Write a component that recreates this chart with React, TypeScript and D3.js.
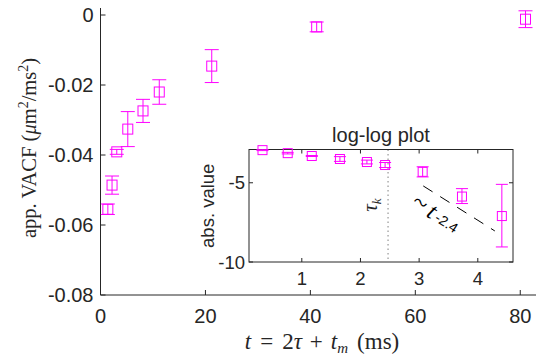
import * as d3 from 'd3';

// main panel: t (ms) vs apparent VACF
const mainT = [1.4, 2.2, 3.1, 5.2, 8.1, 11.2, 21.2, 41.2, 81.0];
const mainV = [-0.0555, -0.0486, -0.0391, -0.0326, -0.0274, -0.022, -0.0146, -0.0034, -0.0012];
const mainErr = [0.0015, 0.0026, 0.0007, 0.005, 0.0033, 0.0035, 0.0047, 0.0014, 0.0024];
const mainXTicks = [0, 20, 40, 60, 80];
const mainYTicks = [-0.08, -0.06, -0.04, -0.02, 0];

// inset: log-log
const logT = [0.33, 0.76, 1.17, 1.65, 2.11, 2.42, 3.06, 3.73, 4.41];
const logV = [-2.94, -3.13, -3.31, -3.5, -3.69, -3.88, -4.31, -5.87, -7.1];
const logErrUp = [0.03, 0.05, 0.03, 0.15, 0.12, 0.16, 0.32, 0.5, 2.0];
const logErrDown = [0.03, 0.05, 0.03, 0.15, 0.12, 0.16, 0.32, 0.44, 1.95];
const insetXTicks = [1, 2, 3, 4];
const insetYTicks = [-10, -5];
const tauK = 2.47;
const slopeLine = [
  [3.07, -5.2],
  [4.29, -8.04],
];

const AX = '#262626';
const MAG = '#ff00ff';
const SANS = '"Liberation Sans", Arial, Helvetica, sans-serif';
const SERIF = '"Liberation Serif", "Times New Roman", serif';

export default function App() {
  const width = 537;
  const height = 356;

  const x = d3.scaleLinear().domain([0, 83]).range([100.5, 536]);
  const y = d3.scaleLinear().domain([-0.08, 0.002]).range([295, 8]);

  const ix = d3.scaleLinear().domain([0.1, 4.6]).range([249, 513]);
  const iy = d3.scaleLinear().domain([-10, -2.9]).range([262, 149.5]);

  const fmtY = (v: number) => (v === 0 ? '0' : d3.format('.2f')(v).replace('−', '-'));

  const [x0, x1] = x.range();
  const [yb, yt] = y.range();
  const [ix0, ix1] = ix.range();
  const [iyb, iyt] = iy.range();

  return (
    <div style={{ position: 'absolute', left: 0, top: 0 }}>
      <svg width={width} height={height} style={{ display: 'block', background: '#fff' }}>
        {/* main axes */}
        <g stroke={AX} strokeWidth={1} fill="none">
          <line x1={x0} x2={x0} y1={yb} y2={yt} />
          <line x1={x0} x2={x1} y1={yb} y2={yb} />
          {mainYTicks.map((t) => (
            <line key={t} x1={x0} x2={x0 + 5} y1={y(t)} y2={y(t)} />
          ))}
          {mainXTicks.map((t) => (
            <line key={t} x1={x(t)} x2={x(t)} y1={yb} y2={yb - 5} />
          ))}
        </g>
        <g fill={AX} fontFamily={SANS} fontSize={20}>
          {mainYTicks.map((t) => (
            <text key={t} x={x0 - 7} y={y(t)} dy="0.36em" textAnchor="end">
              {fmtY(t)}
            </text>
          ))}
          {mainXTicks.map((t) => (
            <text key={t} x={x(t)} y={323} textAnchor="middle">
              {t}
            </text>
          ))}
        </g>
        <text x={322} y={349} textAnchor="middle" fontFamily={SERIF} fontSize={23} fill={AX}>
          <tspan fontStyle="italic">t</tspan>
          <tspan dx={9}>=</tspan>
          <tspan dx={9}>2</tspan>
          <tspan fontStyle="italic">τ</tspan>
          <tspan dx={8}>+</tspan>
          <tspan dx={8} fontStyle="italic">t</tspan>
          <tspan fontStyle="italic" fontSize={15} dy={4}>m</tspan>
          <tspan dy={-4} dx={9}>(ms)</tspan>
        </text>
        <text
          transform={`translate(36,148) rotate(-90)`}
          textAnchor="middle"
          fontFamily={SERIF}
          fontSize={20.5}
          fill={AX}
        >
          app. VACF (<tspan fontStyle="italic">μ</tspan>m<tspan fontSize={14} dy={-8}>2</tspan>
          <tspan dy={8}>/ms</tspan>
          <tspan fontSize={14} dy={-8}>2</tspan>
          <tspan dy={8}>)</tspan>
        </text>

        {/* main data */}
        <g stroke={MAG} strokeWidth={1} fill="none">
          {mainT.map((t, i) => {
            const cx = x(t);
            const top = y(mainV[i] + mainErr[i]);
            const bot = y(mainV[i] - mainErr[i]);
            return (
              <g key={i}>
                <line x1={cx} x2={cx} y1={top} y2={bot} />
                <line x1={cx - 7} x2={cx + 7} y1={top} y2={top} />
                <line x1={cx - 7} x2={cx + 7} y1={bot} y2={bot} />
                <rect x={cx - 5} y={y(mainV[i]) - 5} width={10} height={10} />
              </g>
            );
          })}
        </g>

        {/* inset */}
        <rect x={ix0} y={iyt} width={ix1 - ix0} height={iyb - iyt} fill="#fff" />
        <line
          x1={ix(tauK)}
          x2={ix(tauK)}
          y1={iyt}
          y2={iyb}
          stroke="#808080"
          strokeWidth={1}
          strokeDasharray="1.5,3"
        />
        <line
          x1={ix(slopeLine[0][0])}
          y1={iy(slopeLine[0][1])}
          x2={ix(slopeLine[1][0])}
          y2={iy(slopeLine[1][1])}
          stroke="#000"
          strokeWidth={1}
          strokeDasharray="11,9"
        />
        <g stroke={AX} strokeWidth={1} fill="none">
          <rect x={ix0} y={iyt} width={ix1 - ix0} height={iyb - iyt} />
          {insetXTicks.map((t) => (
            <g key={t}>
              <line x1={ix(t)} x2={ix(t)} y1={iyb} y2={iyb - 4} />
              <line x1={ix(t)} x2={ix(t)} y1={iyt} y2={iyt + 4} />
            </g>
          ))}
          {insetYTicks.map((t) => (
            <g key={t}>
              <line x1={ix0} x2={ix0 + 4} y1={iy(t)} y2={iy(t)} />
              <line x1={ix1} x2={ix1 - 4} y1={iy(t)} y2={iy(t)} />
            </g>
          ))}
        </g>
        <g fill={AX} fontFamily={SANS} fontSize={18.5}>
          {insetYTicks.map((t) => (
            <text key={t} x={ix0 - 4} y={iy(t)} dy="0.36em" textAnchor="end">
              {t}
            </text>
          ))}
          {insetXTicks.map((t) => (
            <text key={t} x={ix(t)} y={285} textAnchor="middle">
              {t}
            </text>
          ))}
          <text x={(ix0 + ix1) / 2} y={142} textAnchor="middle" fontSize={20}>
            log-log plot
          </text>
          <text transform={`translate(214,${(iyt + iyb) / 2}) rotate(-90)`} textAnchor="middle">
            abs. value
          </text>
        </g>
        <text
          transform={`translate(377,205) rotate(-90)`}
          textAnchor="middle"
          fontFamily={SERIF}
          fontSize={21}
          fill={AX}
        >
          <tspan fontStyle="italic">τ</tspan>
          <tspan fontStyle="italic" fontSize={13} dy={4}>k</tspan>
        </text>
        <text transform="translate(410,206) rotate(33)" textAnchor="start" fill="#000">
          <tspan fontFamily={SERIF} fontSize={26}>~</tspan>
          <tspan fontFamily={SERIF} fontStyle="italic" fontSize={24} dx={4}>t</tspan>
          <tspan fontFamily={SANS} fontSize={14} dy={-1} dx={3}>-2.4</tspan>
        </text>

        {/* inset data */}
        <g stroke={MAG} strokeWidth={1} fill="none">
          {logT.map((t, i) => {
            const cx = ix(t);
            const top = iy(logV[i] + logErrUp[i]);
            const bot = iy(logV[i] - logErrDown[i]);
            return (
              <g key={i}>
                <line x1={cx} x2={cx} y1={top} y2={bot} />
                <line x1={cx - 6} x2={cx + 6} y1={top} y2={top} />
                <line x1={cx - 6} x2={cx + 6} y1={bot} y2={bot} />
                <rect x={cx - 4.5} y={iy(logV[i]) - 4.5} width={9} height={9} />
              </g>
            );
          })}
        </g>
      </svg>
    </div>
  );
}
